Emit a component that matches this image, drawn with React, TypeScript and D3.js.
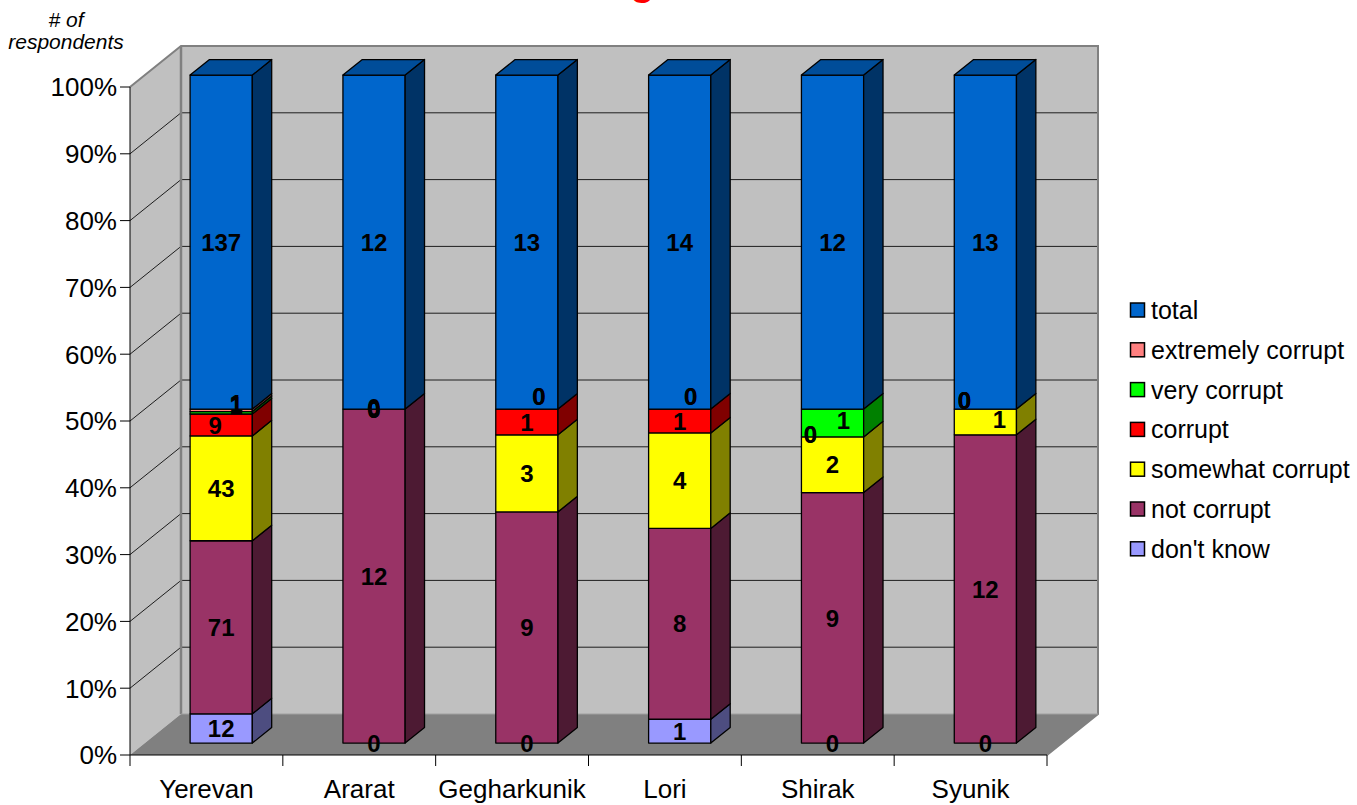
import React from 'react'
import * as d3 from 'd3'

// chart data
const categories = ['Yerevan', 'Ararat', 'Gegharkunik', 'Lori', 'Shirak', 'Syunik']
const seriesNames = ["don't know", 'not corrupt', 'somewhat corrupt', 'corrupt', 'very corrupt', 'extremely corrupt', 'total']
const dontKnow = [12, 0, 0, 1, 0, 0]
const notCorrupt = [71, 12, 9, 8, 9, 12]
const somewhatCorrupt = [43, 0, 3, 4, 2, 1]
const corrupt = [9, 0, 1, 1, 0, 0]
const veryCorrupt = [1, 0, 0, 0, 1, 0]
const extremelyCorrupt = [1, 0, 0, 0, 0, 0]
const total = [137, 12, 13, 14, 12, 13]
const yTickValues = [0, 0.1, 0.2, 0.3, 0.4, 0.5, 0.6, 0.7, 0.8, 0.9, 1]

const seriesValues = [dontKnow, notCorrupt, somewhatCorrupt, corrupt, veryCorrupt, extremelyCorrupt, total]

// face colours: front, side, top
const colors: Record<string, [string, string, string]> = {
  "don't know": ['#9999ff', '#4d4d80', '#7373bf'],
  'not corrupt': ['#993366', '#4d1a33', '#73264d'],
  'somewhat corrupt': ['#ffff00', '#808000', '#bfbf00'],
  'corrupt': ['#ff0000', '#800000', '#bf0000'],
  'very corrupt': ['#00ff00', '#008000', '#00bf00'],
  'extremely corrupt': ['#ff8080', '#804040', '#bf6060'],
  'total': ['#0066cc', '#003366', '#004d99']
}

// label nudges where the labels collide
const nudges: Record<string, [number, number]> = {
  'Yerevan|corrupt': [-6, 0],
  'Yerevan|very corrupt': [15, -7],
  'Yerevan|extremely corrupt': [15, -7],
  'Ararat|extremely corrupt': [0, -2],
  'Gegharkunik|very corrupt': [12, -13],
  'Gegharkunik|extremely corrupt': [12, -13],
  'Lori|very corrupt': [11, -13],
  'Lori|extremely corrupt': [11, -13],
  'Shirak|corrupt': [-22, -3],
  'Shirak|very corrupt': [11, -3],
  'Shirak|extremely corrupt': [-22, 25],
  'Syunik|somewhat corrupt': [14, -3],
  'Syunik|corrupt': [-21, -9],
  'Syunik|very corrupt': [-21, -9],
  'Syunik|extremely corrupt': [-21, -9]
}

const FONT = '"Liberation Sans", Arial, sans-serif'
const DX = 51
const DY = 41
const Z0 = 0.29
const Z1 = 0.67

export default function App() {
  const width = 1357
  const height = 805
  const x0 = 130
  const x1 = 1047

  const xBand = d3.scaleBand<string>().domain(categories).range([x0, x1]).padding(0)
  const y = d3.scaleLinear().domain([0, 1]).range([755, 87])
  const barW = xBand.bandwidth() * 0.407

  const p = (x: number, yy: number, z: number) => `${x + z * DX},${yy - z * DY}`

  const yBot = y(0)
  const yTop = y(1)

  const bars = categories.map((cat, ci) => {
    const sum = d3.sum(seriesValues, s => s[ci])
    let acc = 0
    const segs = seriesNames.map((name, si) => {
      const v = seriesValues[si][ci]
      const s0 = acc / sum
      acc += v
      const s1 = acc / sum
      return { name, v, s0, s1 }
    })
    const cx = xBand(cat)! + xBand.bandwidth() / 2
    return { cat, segs, left: cx - barW / 2, right: cx + barW / 2 }
  })

  return (
    <svg width={width} height={height} style={{ display: 'block', position: 'absolute', left: 0, top: 0 }} fontFamily={FONT}>
      <rect width={width} height={height} fill="#ffffff" />

      {/* title, cut off at the top */}
      <text x={579} y={-5} fontSize={40} fontWeight="bold" fill="#ff0000">Regions</text>

      {/* walls and floor */}
      <polygon points={[p(x0, yTop, 1), p(x1, yTop, 1), p(x1, yBot, 1), p(x0, yBot, 1)].join(' ')} fill="#c0c0c0" />
      <polygon points={[p(x0, yTop, 0), p(x0, yTop, 1), p(x0, yBot, 1), p(x0, yBot, 0)].join(' ')} fill="#c0c0c0" />
      <polygon points={[p(x0, yBot, 0), p(x1, yBot, 0), p(x1, yBot, 1), p(x0, yBot, 1)].join(' ')} fill="#808080" />

      {yTickValues.slice(1).map(t => (
        <g key={t}>
          <polyline points={[p(x0, y(t), 0), p(x0, y(t), 1), p(x1, y(t), 1)].join(' ')} fill="none" stroke="#000" strokeWidth={1} opacity={t === 1 ? 0 : 0.85} />
        </g>
      ))}
      <polyline points={[p(x0, yTop, 0), p(x0, yTop, 1), p(x1, yTop, 1), p(x1, yBot, 1), p(x1, yBot, 0)].join(' ')} fill="none" stroke="#808080" strokeWidth={2} />
      <line x1={x0 + DX} y1={yTop - DY} x2={x0 + DX} y2={yBot - DY} stroke="#808080" strokeWidth={2.5} />
      <line x1={x0 + DX} y1={yBot - DY} x2={x1 + DX} y2={yBot - DY} stroke="#a0a0a0" strokeWidth={1} />

      {/* axes */}
      <line x1={x0} y1={yTop} x2={x0} y2={yBot} stroke="#000" strokeWidth={1} />
      <line x1={x0} y1={yBot} x2={x1} y2={yBot} stroke="#000" strokeWidth={1} />
      {yTickValues.map(t => (
        <g key={t}>
          <line x1={x0 - 10} y1={y(t)} x2={x0} y2={y(t)} stroke="#000" />
          <text x={x0 - 13} y={y(t)} dy="0.36em" textAnchor="end" fontSize={26}>{d3.format('.0%')(t)}</text>
        </g>
      ))}
      {d3.range(categories.length + 1).map(i => {
        const xx = x0 + i * xBand.step()
        return <line key={i} x1={xx} y1={yBot} x2={xx} y2={yBot + 11} stroke="#000" />
      })}
      {categories.map(c => (
        <text key={c} x={xBand(c)! + xBand.bandwidth() / 2} y={798} textAnchor="middle" fontSize={26}>{c}</text>
      ))}

      {/* bars */}
      {bars.map(b => {
        const visible = b.segs.filter(s => s.v > 0)
        const topSeg = visible[visible.length - 1]
        return (
          <g key={b.cat}>
            {visible.map(s => {
              const [front, side, top] = colors[s.name]
              const ya = y(s.s0)
              const yb = y(s.s1)
              return (
                <g key={s.name}>
                  <polygon points={[p(b.left, yb, Z0), p(b.right, yb, Z0), p(b.right, ya, Z0), p(b.left, ya, Z0)].join(' ')} fill={front} stroke="#000" strokeWidth={1.3} strokeLinejoin="round" />
                  <polygon points={[p(b.right, yb, Z0), p(b.right, yb, Z1), p(b.right, ya, Z1), p(b.right, ya, Z0)].join(' ')} fill={side} stroke="#000" strokeWidth={1.3} strokeLinejoin="round" />
                  {s === topSeg && (
                    <polygon points={[p(b.left, yb, Z0), p(b.left, yb, Z1), p(b.right, yb, Z1), p(b.right, yb, Z0)].join(' ')} fill={top} stroke="#000" strokeWidth={1.3} strokeLinejoin="round" />
                  )}
                </g>
              )
            })}
          </g>
        )
      })}

      {/* data labels */}
      {bars.map(b => b.segs.map(s => {
        const [nx, ny] = nudges[`${b.cat}|${s.name}`] || [0, 0]
        const cx = (b.left + b.right) / 2 + Z0 * DX + nx
        const cy = y((s.s0 + s.s1) / 2) - Z0 * DY + ny
        return (
          <text key={`${b.cat}-${s.name}`} x={cx} y={cy} dy="0.36em" textAnchor="middle" fontSize={24} fontWeight="bold" fill="#000">{s.v}</text>
        )
      }))}

      {/* y axis title */}
      <text x={66} y={27} textAnchor="middle" fontSize={21} fontStyle="italic">
        # of
      </text>
      <text x={66} y={49} textAnchor="middle" fontSize={21} fontStyle="italic">respondents</text>

      {/* legend */}
      {seriesNames.slice().reverse().map((name, i) => {
        const cy = 310 + i * 39.8
        return (
          <g key={name}>
            <rect x={1130.5} y={cy - 7} width={14} height={14} fill={colors[name][0]} stroke="#000" strokeWidth={1.5} />
            <text x={1151} y={cy} dy="0.36em" fontSize={25}>{name}</text>
          </g>
        )
      })}
    </svg>
  )
}
